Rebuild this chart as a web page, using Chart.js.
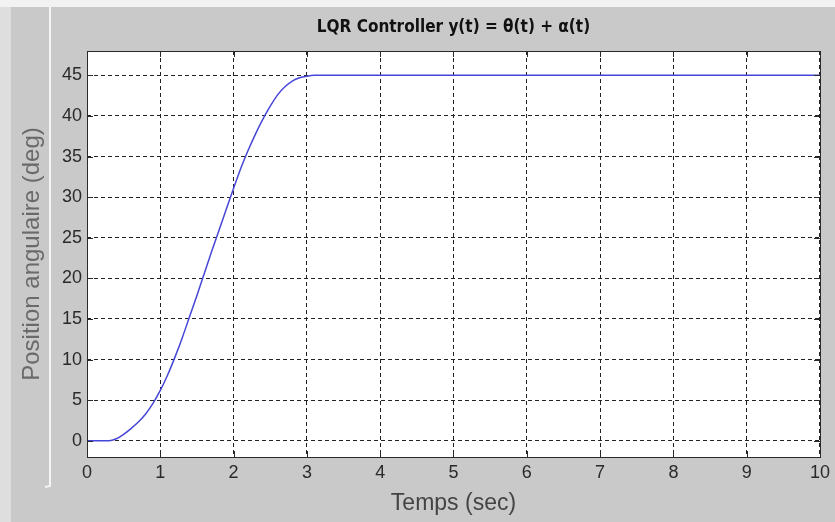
<!DOCTYPE html>
<html>
<head>
<meta charset="utf-8">
<script src="https://cdn.jsdelivr.net/npm/chart.js@4"></script>
<style>
  body { margin: 0; background: #c9c9c9; }
  #wrap { width: 835px; height: 522px; }
</style>
</head>
<body>
<div id="wrap"><canvas id="lqr" width="835" height="522"></canvas></div>
<script>
// data
const timeSec = [0, 0.3, 0.4, 0.5, 0.6, 0.7, 0.8, 0.9, 1.0, 1.1, 1.2, 1.3, 1.4, 1.5, 1.6, 1.7, 1.8, 1.9, 2.0,
  2.1, 2.2, 2.3, 2.4, 2.5, 2.6, 2.7, 2.8, 2.9, 3.0, 3.1, 10];
const angleDeg = [0, 0, 0.25, 0.8, 1.5, 2.3, 3.3, 4.6, 6.2, 8.1, 10.3, 12.7, 15.3, 17.9, 20.6, 23.3, 25.9, 28.5, 31.1,
  33.6, 35.8, 37.8, 39.6, 41.2, 42.6, 43.6, 44.3, 44.7, 44.9, 45, 45];
const xTicks = [0, 1, 2, 3, 4, 5, 6, 7, 8, 9, 10];
const yTicks = [0, 5, 10, 15, 20, 25, 30, 35, 40, 45];
const titleText = "LQR Controller y(t) = \u03b8(t) + \u03b1(t)";

const points = timeSec.map((t, i) => ({ x: t, y: angleDeg[i] }));

//Figure background, white axes box, title
const frame = {
  id: "frame",
  beforeDraw(chart) {
    const c = chart.ctx, a = chart.chartArea;
    c.save();
    c.fillStyle = "#c9c9c9";
    c.fillRect(0, 0, chart.width, chart.height);
    c.fillStyle = "#f2f2f2";
    c.fillRect(0, 0, chart.width, 7);
    c.fillStyle = "#dedede";
    c.fillRect(0, 7, 11, chart.height - 7);
    c.strokeStyle = "#f4f4f4";
    c.lineWidth = 2;
    c.beginPath();
    c.moveTo(50, 6);
    c.lineTo(50, 486);
    c.lineTo(45, 487);
    c.stroke();
    c.fillStyle = "#ffffff";
    c.fillRect(a.left, a.top, a.right - a.left, a.bottom - a.top);
    c.restore();
  },
  afterDraw(chart) {
    const c = chart.ctx, a = chart.chartArea;
    const xs = chart.scales.x, ys = chart.scales.y;
    c.save();
    c.strokeStyle = "#2a2a2a";
    c.lineWidth = 1;
    c.beginPath();
    xTicks.forEach(v => {
      const px = Math.round(xs.getPixelForValue(v)) + 0.5;
      c.moveTo(px, a.bottom); c.lineTo(px, a.bottom - 6);
      c.moveTo(px, a.top); c.lineTo(px, a.top + 6);
    });
    yTicks.forEach(v => {
      const py = Math.round(ys.getPixelForValue(v)) + 0.5;
      c.moveTo(a.left, py); c.lineTo(a.left + 6, py);
      c.moveTo(a.right, py); c.lineTo(a.right - 6, py);
    });
    c.stroke();
    c.strokeRect(Math.round(a.left) + 0.5, Math.round(a.top) + 0.5,
      Math.round(a.right - a.left), Math.round(a.bottom - a.top));
    c.fillStyle = "#111";
    c.font = 'bold 17px "DejaVu Sans Condensed", "DejaVu Sans", sans-serif';
    c.textAlign = "center";
    c.textBaseline = "middle";
    c.fillText(titleText, (a.left + a.right) / 2, 28);
    c.restore();
  },
};

let lqr = new Chart(document.getElementById("lqr").getContext("2d"), {
  type: "scatter",
  data: {
    datasets: [
      {
        label: "y(t)",
        data: points,
        showLine: true,
        borderColor: "#4646d8",
        borderWidth: 1.5,
        pointRadius: 0,
        cubicInterpolationMode: "monotone",
      },
    ],
  },
  options: {
    responsive: false,
    animation: false,
    layout: { padding: { top: 51, right: 14, left: 0, bottom: 0 } },
    plugins: { legend: { display: false }, tooltip: { enabled: false } },
    scales: {
      x: {
        type: "linear",
        min: 0,
        max: 10,
        afterFit: s => { s.height = 65; },
        afterBuildTicks: s => { s.ticks = xTicks.map(v => ({ value: v })); },
        grid: { color: "#222", lineWidth: 1, drawTicks: false },
        border: { display: false, dash: [4, 3] },
        ticks: { padding: 5, color: "#2a2a2a", font: { family: "Arial, 'Liberation Sans', sans-serif", size: 18 } },
        title: {
          display: true,
          text: "Temps (sec)",
          color: "#444",
          padding: { top: 0, bottom: 5 },
          font: { family: "Arial, 'Liberation Sans', sans-serif", size: 23 },
        },
      },
      y: {
        type: "linear",
        min: -2,
        max: 48,
        afterFit: s => { s.width = 87; },
        afterBuildTicks: s => { s.ticks = yTicks.map(v => ({ value: v })); },
        grid: { color: "#222", lineWidth: 1, drawTicks: false },
        border: { display: false, dash: [4, 3] },
        ticks: { padding: 5, color: "#2a2a2a", font: { family: "Arial, 'Liberation Sans', sans-serif", size: 18 } },
        title: {
          display: true,
          text: "Position angulaire (deg)",
          color: "#6a6a6a",
          padding: { top: 18, bottom: 0 },
          font: { family: "Arial, 'Liberation Sans', sans-serif", size: 24 },
        },
      },
    },
  },
  plugins: [frame],
});
</script>
</body>
</html>
